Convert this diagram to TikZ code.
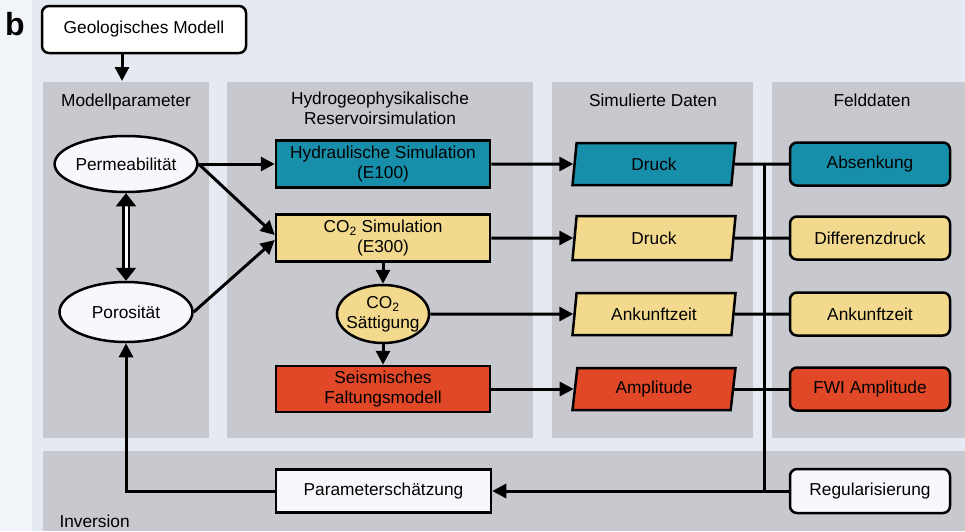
\documentclass[tikz,border=0pt]{standalone}
\usepackage{fontspec}
\setmainfont{Liberation Sans}
\usetikzlibrary{shapes.geometric, arrows.meta, positioning}
\definecolor{hydteal}{RGB}{24,143,170}
\definecolor{co2yellow}{RGB}{242,217,142}
\definecolor{seisred}{RGB}{225,72,40}
\definecolor{panelgray}{RGB}{199,201,206}
\definecolor{bgblue}{RGB}{229,234,242}
\definecolor{stripblue}{RGB}{241,244,249}
\definecolor{boxwhite}{RGB}{247,248,251}
\tikzset{
    % Column background - gray block
    panel/.style={fill=panelgray},
    % Column heading
    panel title/.style={anchor=base, align=center},
    % Simulation step - square box
    proc box/.style={rectangle, draw, line width=2.5pt, minimum width=214pt, minimum height=47pt, align=center, inner sep=2pt},
    % Field data - rounded box
    field box/.style={rectangle, rounded corners=7pt, draw, line width=2.5pt, minimum width=160pt, minimum height=43pt, align=center},
    % Model parameter - ellipse
    param ell/.style={ellipse, draw, line width=2.5pt, fill=boxwhite, inner sep=0pt, align=center},
    % Simulated data - parallelogram
    sim data/.style={trapezium, trapezium left angle=78, trapezium right angle=102, trapezium stretches body, draw, line width=2.5pt, minimum width=163pt, minimum height=42pt},
    % Arrow between steps
    flow/.style={line width=3pt, -{Triangle[length=14pt,width=14pt]}},
    % Plain link line
    link/.style={line width=3pt},
    % Two-way double arrow
    dbl/.style={double, double distance=3pt, line width=2.2pt, {Triangle[length=13pt,width=20pt]}-{Triangle[length=13pt,width=20pt]}}
}
\begin{document}
\begin{tikzpicture}[x=1pt, y=-1pt, font=\fontsize{17.3}{19.5}\selectfont]
    \useasboundingbox (0,0) rectangle (965,531);

    % --- Background & columns ---
    \fill[stripblue] (0,0) rectangle (965,531);
    \fill[bgblue] (32,0) rectangle (965,531);
    \fill[panel] (43,82) rectangle (209,438);
    \fill[panel] (227,82) rectangle (533,438);
    \fill[panel] (552,82) rectangle (753,438);
    \fill[panel] (772,82) rectangle (965,438);
    \fill[panel] (43,451) rectangle (965,531);

    \node[font=\fontsize{32}{32}\selectfont\bfseries] (lbl) at (15,24) {b};
    \node[panel title] (tmp) at (126,106) {Modellparameter};
    \node[panel title] (tres) at (380,124) {Hydrogeophysikalische\\Reservoirsimulation};
    \node[panel title] (tsim) at (653,106) {Simulierte Daten};
    \node[panel title] (tfeld) at (872,106) {Felddaten};
    \node[anchor=base west] (tinv) at (56,527) {Inversion};

    % --- Nodes ---
    \node[field box, fill=white, minimum width=204pt, minimum height=47pt] (geo) at (144,29.5) {Geologisches Modell};
    \coordinate (mpTop) at (122,81);

    \node[param ell, minimum width=132pt, minimum height=56pt] (perm) at (126,164) {Permeabilität};
    \node[param ell, minimum width=133pt, minimum height=60pt] (poro) at (126,312) {Porosität};

    \node[proc box, fill=hydteal] (hyd) at (383,164) {Hydraulische Simulation\\(E100)};
    \node[proc box, fill=co2yellow] (co2) at (383,238) {CO\textsubscript{2} Simulation\\(E300)};
    \node[param ell, fill=co2yellow, inner xsep=-4pt, inner ysep=-1pt, minimum width=92pt, minimum height=58pt] (sat) at (383,314) {CO\textsubscript{2}\\Sättigung};
    \node[proc box, fill=seisred, minimum height=46pt] (seis) at (383,389) {Seismisches\\Faltungsmodell};

    \node[sim data, fill=hydteal] (druckA) at (654,164) {Druck};
    \node[sim data, fill=co2yellow, minimum height=44pt] (druckB) at (654,238) {Druck};
    \node[sim data, fill=co2yellow] (ankA) at (654,314) {Ankunftzeit};
    \node[sim data, fill=seisred] (ampl) at (654,389) {Amplitude};

    \node[field box, fill=hydteal] (absenk) at (870,164) {Absenkung};
    \node[field box, fill=co2yellow] (diff) at (870,238) {Differenzdruck};
    \node[field box, fill=co2yellow] (ankB) at (870,314) {Ankunftzeit};
    \node[field box, fill=seisred] (fwi) at (870,389) {FWI Amplitude};

    \node[proc box, fill=boxwhite, minimum width=215pt, minimum height=43pt] (param) at (383.5,491) {Parameterschätzung};
    \node[field box, fill=boxwhite, minimum height=44pt] (regul) at (870,491) {Regularisierung};
    \coordinate (jTop) at (764,164);
    \coordinate (jBot) at (764,491);

    % --- Connectors ---
    \draw[flow] (geo.south -| mpTop) -- (mpTop);
    \draw[dbl] (perm) -- (poro);
    \draw[flow] (perm.east) -- (hyd.west);
    \draw[flow] (perm.east) -- ([yshift=3pt]co2.west);
    \draw[flow] (poro.east) -- ([yshift=-2pt]co2.west);
    \draw[flow] (co2) -- (sat);
    \draw[flow] (sat) -- (seis);

    \draw[flow] (hyd.east) -- (druckA.west);
    \draw[flow] (co2.east) -- (druckB.west);
    \draw[flow] (sat.east) -- (ankA.west);
    \draw[flow] (seis.east) -- (ampl.west);

    \draw[link] (druckA.east) -- (absenk.west);
    \draw[link] (druckB.east) -- (diff.west);
    \draw[link] (ankA.east) -- (ankB.west);
    \draw[link] (ampl.east) -- (fwi.west);
    \draw[link] (jTop) -- (jBot);

    \draw[flow] (regul.west) -- (param.east);
    \draw[flow] (param.west) -| (poro.south);
\end{tikzpicture}
\end{document}
